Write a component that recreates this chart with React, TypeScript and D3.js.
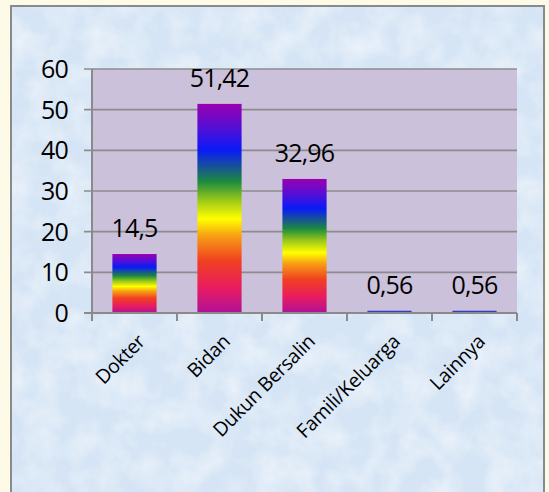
import React from "react";
import * as d3 from "d3";

const categories = ["Dokter", "Bidan", "Dukun Bersalin", "Famili/Keluarga", "Lainnya"];
const values = [14.5, 51.42, 32.96, 0.56, 0.56];
const valueLabels = ["14,5", "51,42", "32,96", "0,56", "0,56"];
const yTicks = [0, 10, 20, 30, 40, 50, 60];

// rainbow gradient stops, from bottom (0) to top (1)
const gradientStops: [number, string][] = [
  [0, "#b0109a"],
  [0.12, "#e81c60"],
  [0.25, "#f04020"],
  [0.37, "#f8a014"],
  [0.45, "#ffff00"],
  [0.54, "#9ac818"],
  [0.63, "#1a8a40"],
  [0.68, "#1a6080"],
  [0.78, "#0a1af8"],
  [0.88, "#5010d8"],
  [1, "#9a00b0"],
];

const W = 549;
const H = 492;
const plot = { left: 92, right: 517, top: 69, bottom: 313 };
const FONT = "'Open Sans', 'DejaVu Sans', sans-serif";

export default function App() {
  const x = d3
    .scaleBand<string>()
    .domain(categories)
    .range([plot.left, plot.right])
    .paddingInner(0.48)
    .paddingOuter(0.24);
  const y = d3.scaleLinear().domain([0, 60]).range([plot.bottom, plot.top]);
  const step = (plot.right - plot.left) / categories.length;
  const boundaries = d3.range(categories.length + 1).map((i) => plot.left + i * step);

  return (
    <svg
      width={W}
      height={H}
      style={{ position: "absolute", left: 0, top: 0, display: "block" }}
    >
      <defs>
        <linearGradient id="rainbow" x1="0" y1="1" x2="0" y2="0">
          {gradientStops.map(([o, c], i) => (
            <stop key={i} offset={o} stopColor={c} />
          ))}
        </linearGradient>
        <filter id="marble" x="0" y="0" width="100%" height="100%">
          <feTurbulence type="fractalNoise" baseFrequency="0.035" numOctaves={4} seed={3} />
          <feColorMatrix
            type="matrix"
            values="0 0 0 0 1  0 0 0 0 1  0 0 0 0 1  1.2 0 0 0 -0.45"
          />
        </filter>
        <filter id="cream" x="0" y="0" width="100%" height="100%">
          <feTurbulence type="fractalNoise" baseFrequency="0.05" numOctaves={3} seed={7} />
          <feColorMatrix
            type="matrix"
            values="0 0 0 0 0.95  0 0 0 0 0.9  0 0 0 0 0.7  0.6 0 0 0 -0.25"
          />
        </filter>
      </defs>

      {/* outer cream background */}
      <rect x={0} y={0} width={W} height={H} fill="#fdfbe7" />
      <rect x={0} y={0} width={W} height={H} filter="url(#cream)" opacity={0.25} />

      {/* chart area */}
      <rect x={11} y={6} width={533} height={H} fill="#d6e5f5" stroke="#8a8a8a" strokeWidth={2} />
      <rect x={12} y={7} width={531} height={H} filter="url(#marble)" opacity={0.8} />

      {/* plot area */}
      <rect
        x={plot.left}
        y={plot.top}
        width={plot.right - plot.left}
        height={plot.bottom - plot.top}
        fill="#ccc1da"
      />

      {/* gridlines */}
      {yTicks.map((t) => (
        <line
          key={"g" + t}
          x1={plot.left - 8}
          x2={plot.right}
          y1={y(t)}
          y2={y(t)}
          stroke="#8c8c8c"
          strokeWidth={1.6}
        />
      ))}

      {/* y tick labels */}
      {yTicks.map((t) => (
        <text
          key={"yl" + t}
          x={68}
          y={y(t)}
          dy="0.36em"
          textAnchor="end"
          fontFamily={FONT}
          fontSize={25}
          letterSpacing={-0.8}
          fill="#000"
        >
          {t}
        </text>
      ))}

      {/* bars */}
      {values.map((v, i) => {
        const h = y(0) - y(v);
        return (
          <rect
            key={"b" + i}
            x={x(categories[i])}
            y={y(v)}
            width={x.bandwidth()}
            height={h}
            fill={h < 4 ? "#2b3ccf" : "url(#rainbow)"}
          />
        );
      })}

      {/* axes */}
      <line x1={plot.left} x2={plot.left} y1={plot.top} y2={plot.bottom + 1} stroke="#8a8a8a" strokeWidth={2} />
      <line x1={plot.left - 8} x2={plot.right} y1={plot.bottom} y2={plot.bottom} stroke="#8a8a8a" strokeWidth={2} />
      {boundaries.map((bx, i) => (
        <line key={"xt" + i} x1={bx} x2={bx} y1={plot.bottom} y2={plot.bottom + 8} stroke="#8a8a8a" strokeWidth={2} />
      ))}

      {/* value labels */}
      {values.map((v, i) => (
        <text
          key={"vl" + i}
          x={(x(categories[i]) as number) + x.bandwidth() / 2}
          y={y(v) - 17}
          textAnchor="middle"
          fontFamily={FONT}
          fontSize={25}
          letterSpacing={-0.8}
          fill="#000"
        >
          {valueLabels[i]}
        </text>
      ))}

      {/* category labels */}
      {categories.map((c) => {
        const cx = (x(c) as number) + x.bandwidth() / 2;
        return (
          <text
            key={"cl" + c}
            transform={`translate(${cx + 2},${333}) rotate(-45)`}
            dy="0.71em"
            textAnchor="end"
            fontFamily={FONT}
            fontSize={19.5}
            letterSpacing={-0.3}
            fill="#000"
          >
            {c}
          </text>
        );
      })}
    </svg>
  );
}
